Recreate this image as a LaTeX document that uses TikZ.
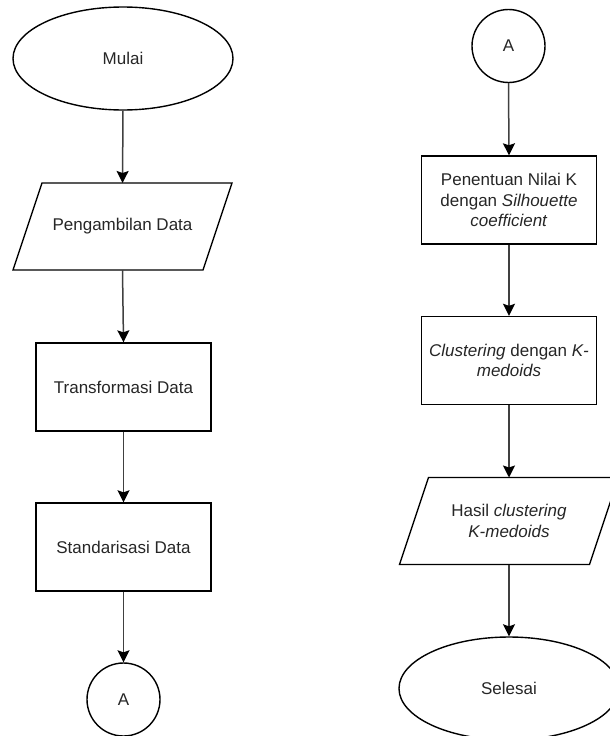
\documentclass[tikz,border=0pt]{standalone}
\usepackage{fontspec}
\setmainfont{Liberation Sans}
\usetikzlibrary{arrows.meta,shapes.geometric}
\begin{document}
\begin{tikzpicture}[x=1pt,y=-1pt]
\tikzset{
 base/.style={font=\fontsize{17}{20.4}\selectfont, text=black!85, line width=1.4pt},
 term/.style={base, ellipse, draw, minimum width=220pt, minimum height=103pt},
 proc/.style={base, rectangle, draw, minimum width=175pt, minimum height=88pt, align=center},
 io/.style={base, rectangle, minimum width=190pt, minimum height=87pt, align=center, outer sep=0pt},
 conn/.style={base, circle, draw, minimum size=73pt},
 flow/.style={line width=1.5pt, draw=black!75, -{Stealth[length=12pt,width=12pt,inset=2pt,color=black,fill=black]}},
 para/.style={line width=1.4pt, draw=black}
}
\useasboundingbox (0,0) rectangle (610,736);
\clip (0,0) rectangle (610,736);
% left column
\node[term] (start) at (123,58.5) {Mulai};
\node[io] (p1) at (122.5,226.5) {Pengambilan Data};
\draw[para] ([xshift=14.5pt]p1.north west) -- ([xshift=14.5pt]p1.north east) -- ([xshift=-14.5pt]p1.south east) -- ([xshift=-14.5pt]p1.south west) -- cycle;
\node[proc] (trans) at (123.5,387) {Transformasi Data};
\node[proc] (stand) at (123.5,547) {Standarisasi Data};
\node[conn] (a1) at (123.5,699.5) {A};
\draw[flow] (start.south) -- (p1.north);
\draw[flow] (p1.south) -- (trans.north);
\draw[flow] (trans.south) -- (stand.north);
\draw[flow] (stand.south) -- (a1.north);
% right column
\node[conn] (a2) at (508.5,46) {A};
\node[proc] (sil) at (509,200) {Penentuan Nilai K\\dengan \textit{Silhouette}\\\textit{coefficient}};
\node[proc] (clus) at (509,360.5) {\textit{Clustering} dengan \textit{K-}\\\textit{medoids}};
\node[io] (p2) at (509,521) {Hasil \textit{clustering}\\\textit{K-medoids}};
\draw[para] ([xshift=14.5pt]p2.north west) -- ([xshift=14.5pt]p2.north east) -- ([xshift=-14.5pt]p2.south east) -- ([xshift=-14.5pt]p2.south west) -- cycle;
\node[term] (end) at (509,688.5) {Selesai};
\draw[flow] (a2.south) -- (sil.north);
\draw[flow] (sil.south) -- (clus.north);
\draw[flow] (clus.south) -- (p2.north);
\draw[flow] (p2.south) -- (end.north);
\end{tikzpicture}
\end{document}
